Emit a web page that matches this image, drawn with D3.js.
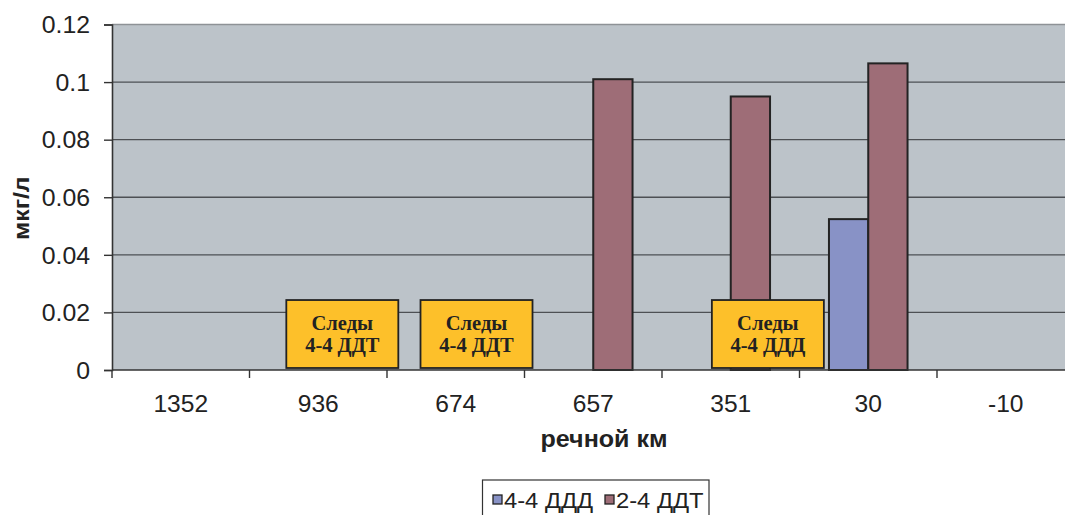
<!DOCTYPE html>
<html>
<head>
<meta charset="utf-8">
<script src="https://cdn.jsdelivr.net/npm/d3@7"></script>
<style>
  html, body { margin: 0; padding: 0; background: #fff; overflow: hidden; }
  svg { display: block; }
</style>
</head>
<body>
<svg id="chart" width="1065" height="515"></svg>
<script>
// River kilometre stations along the x axis
const categories = ["1352", "936", "674", "657", "351", "30", "-10"];
// Series names and concentrations, мкг/л
const seriesNames = ["4-4 ДДД", "2-4 ДДТ"];
const dddValues = [0, 0, 0, 0, 0, 0.0524, 0];
const ddtValues = [0, 0, 0, 0.101, 0.095, 0.1065, 0];
const yTicks = [0, 0.02, 0.04, 0.06, 0.08, 0.1, 0.12];
const yTickLabels = ["0", "0.02", "0.04", "0.06", "0.08", "0.1", "0.12"];
// "traces" notes placed over stations where only trace amounts were found
const noteStations = ["936", "674", "351"];
const noteLines = [["Следы", "4-4 ДДТ"], ["Следы", "4-4 ДДТ"], ["Следы", "4-4 ДДД"]];

const seriesColors = ["#8892c6", "#9e6d77"];
const sansFont = "Liberation Sans, Arial, sans-serif";

const svg = d3.select("#chart");
const plot = { left: 112, top: 24.5, right: 1074.5, bottom: 370 };

// widen a text horizontally around its anchor point
function stretch(sel, sx) {
  sel.each(function () {
    const t = d3.select(this);
    const tx = +t.attr("x") || 0, ty = +t.attr("y") || 0;
    const prev = t.attr("transform") || "";
    t.attr("x", 0).attr("y", 0)
     .attr("transform", `${prev} translate(${tx},${ty}) scale(${sx},1)`);
  });
}

const x = d3.scaleBand().domain(categories).range([plot.left, plot.right]).padding(0);
const bw = x.bandwidth();
const barW = bw / 3.5; // gap width 150% of a bar
const x1 = d3.scaleBand().domain(seriesNames).range([barW * 0.75, bw - barW * 0.75]).padding(0);
const y = d3.scaleLinear().domain([0, 0.12]).range([plot.bottom, plot.top]);

// plot background
svg.append("rect")
  .attr("x", plot.left).attr("y", plot.top)
  .attr("width", plot.right - plot.left).attr("height", plot.bottom - plot.top)
  .attr("fill", "#bcc3c9");

// top border
svg.append("line")
  .attr("x1", plot.left).attr("x2", plot.right)
  .attr("y1", y(0.12)).attr("y2", y(0.12))
  .attr("stroke", "#8e9296").attr("stroke-width", 1.5);

// horizontal gridlines
svg.append("g").selectAll("line")
  .data(yTicks.filter(t => t > 0 && t < 0.12))
  .join("line")
  .attr("x1", plot.left).attr("x2", plot.right)
  .attr("y1", d => y(d)).attr("y2", d => y(d))
  .attr("stroke", "#4d5054").attr("stroke-width", 1.4);

// y axis
const yAxis = d3.axisLeft(y).tickValues(yTicks)
  .tickFormat((d, i) => yTickLabels[i]).tickSize(8).tickPadding(14);
const gy = svg.append("g").attr("transform", `translate(${plot.left},0)`).call(yAxis);
gy.select(".domain").attr("stroke", "#333").attr("stroke-width", 1.6);
gy.selectAll(".tick line").attr("stroke", "#333").attr("stroke-width", 1.4);
gy.selectAll(".tick text")
  .attr("font-family", sansFont)
  .attr("font-size", 23).attr("fill", "#222").attr("dy", "0.36em")
  .call(stretch, 1.08);

// bars
const rows = categories.map((c, i) => ({ cat: c, vals: [dddValues[i], ddtValues[i]] }));
const gBars = svg.append("g");
rows.forEach(r => {
  r.vals.forEach((v, j) => {
    if (v <= 0) return;
    gBars.append("rect")
      .attr("x", x(r.cat) + x1(seriesNames[j]))
      .attr("y", y(v))
      .attr("width", x1.bandwidth())
      .attr("height", y(0) - y(v))
      .attr("fill", seriesColors[j])
      .attr("stroke", "#232323").attr("stroke-width", 2);
  });
});

// x axis
const xAxis = d3.axisBottom(x).tickSize(0).tickPadding(26);
const gx = svg.append("g").attr("transform", `translate(0,${plot.bottom})`).call(xAxis);
gx.select(".domain").remove();
gx.append("line")
  .attr("x1", plot.left).attr("x2", plot.right)
  .attr("y1", 0).attr("y2", 0)
  .attr("stroke", "#333").attr("stroke-width", 1.6);
gx.selectAll(".tick text")
  .attr("font-family", sansFont)
  .attr("font-size", 23).attr("fill", "#222").attr("dy", "0.71em")
  .call(stretch, 1.07);
// category boundary ticks
gx.append("g").selectAll("line")
  .data(categories)
  .join("line")
  .attr("x1", d => x(d)).attr("x2", d => x(d))
  .attr("y1", 0).attr("y2", 8)
  .attr("stroke", "#333").attr("stroke-width", 1.4);

// notes
const noteOffsets = [0.675, 0.651, 0.77];
const noteW = 112, noteTop = 0.0243, noteBottom = 0.0007;
noteStations.forEach((st, i) => {
  const cx = x(st) + bw * noteOffsets[i];
  const g = svg.append("g");
  g.append("rect")
    .attr("x", cx - noteW / 2).attr("y", y(noteTop))
    .attr("width", noteW).attr("height", y(noteBottom) - y(noteTop))
    .attr("fill", "#fdc02a").attr("stroke", "#222").attr("stroke-width", 1.8);
  noteLines[i].forEach((t, k) => {
    g.append("text")
      .attr("x", cx).attr("y", y(noteTop) + 30 + k * 22)
      .attr("text-anchor", "middle")
      .attr("font-family", "Liberation Serif, 'Times New Roman', serif")
      .attr("font-weight", "bold").attr("font-size", 20.5)
      .attr("fill", "#222").text(t);
  });
});

// axis titles
svg.append("text")
  .attr("transform", `translate(29,${(plot.top + plot.bottom) / 2 + 11}) rotate(-90) scale(1.1,1)`)
  .attr("text-anchor", "middle")
  .attr("font-family", sansFont)
  .attr("font-weight", "bold").attr("font-size", 22.5).attr("fill", "#222")
  .text("мкг/л");
svg.append("text")
  .attr("x", 604).attr("y", 447)
  .attr("text-anchor", "middle")
  .attr("font-family", sansFont)
  .attr("font-weight", "bold").attr("font-size", 23).attr("fill", "#222")
  .text("речной км")
  .call(stretch, 1.09);

// legend
const lg = svg.append("g");
lg.append("rect")
  .attr("x", 482.5).attr("y", 480)
  .attr("width", 226.5).attr("height", 50)
  .attr("fill", "#fff").attr("stroke", "#333").attr("stroke-width", 1.2);
const legendX = [493, 605];
seriesNames.forEach((s, i) => {
  lg.append("rect")
    .attr("x", legendX[i]).attr("y", 495)
    .attr("width", 9).attr("height", 9)
    .attr("fill", seriesColors[i]).attr("stroke", "#222").attr("stroke-width", 1.3);
  lg.append("text")
    .attr("x", legendX[i] + 11).attr("y", 508)
    .attr("font-family", sansFont)
    .attr("font-size", 22).attr("fill", "#222")
    .text(s)
    .call(stretch, 1.08);
});
</script>
</body>
</html>
